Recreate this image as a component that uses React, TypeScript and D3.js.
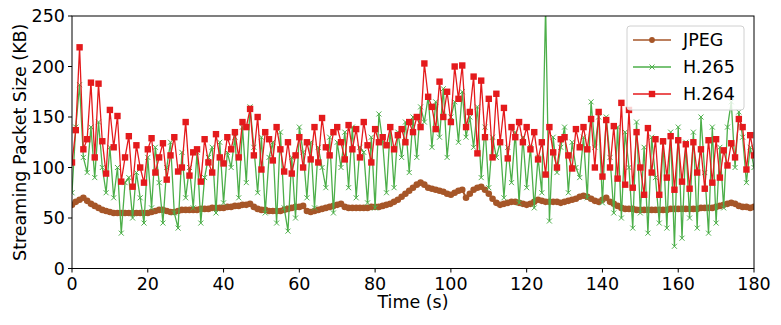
import React from 'react';
import * as d3 from 'd3';

// one sample per second, 0..180 s
const jpeg = [
  63, 66, 68, 70, 67, 64, 62, 60, 58, 57,
  56, 55, 55, 55, 55, 55, 55, 55, 55, 55,
  55, 56, 57, 58, 58, 57, 56, 56, 57, 58,
  58, 58, 58, 58, 59, 59, 59, 60, 60, 60,
  60, 61, 61, 62, 62, 63, 63, 64, 61, 59,
  58, 58, 57, 57, 57, 57, 58, 59, 60, 61,
  61, 62, 57, 56, 57, 58, 59, 60, 61, 62,
  63, 64, 61, 60, 60, 60, 60, 60, 60, 61,
  61, 61, 62, 63, 64, 66, 68, 71, 74, 77,
  80, 83, 85, 83, 80, 79, 78, 77, 76, 74,
  73, 75, 77, 78, 70, 74, 78, 80, 81, 78,
  74, 69, 65, 63, 64, 65, 66, 66, 65, 64,
  63, 64, 66, 68, 67, 66, 66, 66, 66, 65,
  66, 67, 68, 69, 71, 72, 71, 69, 67, 66,
  68, 70, 66, 64, 62, 60, 59, 59, 59, 58,
  58, 58, 58, 58, 58, 58, 58, 58, 59, 59,
  59, 59, 59, 59, 59, 59, 60, 60, 60, 60,
  61, 62, 63, 64, 65, 64, 62, 61, 61, 60, 61,
];

const h265 = [
  75, 140, 182, 110, 95, 140, 90, 145, 100, 75,
  120, 70, 100, 35, 85, 90, 50, 95, 70, 45,
  110, 60, 120, 85, 45, 100, 125, 55, 40, 115,
  70, 100, 60, 115, 45, 90, 110, 120, 55, 125,
  65, 115, 100, 130, 70, 140, 85, 160, 120, 75,
  130, 55, 110, 125, 45, 135, 60, 37, 110, 50,
  140, 115, 70, 125, 60, 120, 100, 80, 130, 55,
  125, 100, 135, 80, 140, 70, 120, 115, 65, 130,
  60, 153, 125, 75, 140, 80, 135, 110, 145, 95,
  150, 110, 160, 145, 170, 120, 165, 130, 178, 110,
  150, 165, 125, 175, 130, 150, 120, 160, 90, 140,
  80, 130, 110, 125, 70, 120, 85, 135, 65, 130,
  80, 120, 60, 110, 75, 260, 47, 130, 95, 120,
  140, 75, 125, 100, 90, 130, 70, 165, 120, 150,
  65, 150, 110, 55, 140, 50, 135, 100, 40, 145,
  55, 120, 35, 130, 90, 45, 125, 40, 135, 22,
  140, 30, 125, 50, 135, 40, 150, 95, 35, 140,
  45, 120, 60, 140, 165, 100, 155, 130, 85, 120, 100,
];

const h264 = [
  105, 137, 219, 118, 128, 184, 110, 183, 126, 94,
  157, 120, 151, 86, 110, 131, 81, 122, 100, 85,
  118, 129, 95, 110, 124, 88, 112, 130, 96, 100,
  145, 92, 115, 118, 86, 128, 105, 95, 133, 110,
  104, 130, 118, 135, 110, 145, 140, 158, 112, 150,
  98, 135, 128, 107, 140, 118, 96, 125, 94, 112,
  130, 100, 125, 108, 140, 105, 149, 120, 112, 135,
  140, 125, 108, 142, 118, 138, 110, 145, 122, 105,
  138, 125, 130, 122, 140, 118, 132, 138, 125, 145,
  135, 150, 140, 203, 170, 160, 138, 185, 150, 175,
  145, 200, 168, 201, 140, 155, 190, 114, 186, 130,
  168, 110, 173, 125, 159, 109, 140, 130, 145, 125,
  140, 118, 135, 108, 125, 93, 140, 115, 100, 128,
  130, 112, 99, 138, 120, 140, 118, 148, 100, 155,
  91, 147, 100, 141, 89, 164, 83, 157, 80, 135,
  100, 73, 139, 95, 128, 73, 126, 90, 131, 78,
  127, 86, 123, 79, 125, 95, 118, 79, 127, 85,
  128, 90, 117, 102, 124, 110, 148, 140, 98, 132, 112,
];

const xTicks = [0, 20, 40, 60, 80, 100, 120, 140, 160, 180];
const yTicks = [0, 50, 100, 150, 200, 250];

const series = [
  { name: 'JPEG', values: jpeg, color: '#a65628', marker: 'circle' },
  { name: 'H.265', values: h265, color: '#4daf4a', marker: 'x' },
  { name: 'H.264', values: h264, color: '#e41a1c', marker: 'square' },
];

const W = 781, H = 325;
const m = { left: 72, right: 27, top: 16, bottom: 56.5 };
const font = '"DejaVu Sans", sans-serif';
const fs = 17.5;

function Marker({ kind, x, y, color, big }: { kind: string; x: number; y: number; color: string; big?: boolean }) {
  if (kind === 'circle') return <circle cx={x} cy={y} r={big ? 3.3 : 2.9} fill={color} />;
  if (kind === 'square') return <rect x={x - 3.2} y={y - 3.2} width={6.4} height={6.4} fill={color} />;
  const s = 2.5;
  return (
    <path d={`M${x - s},${y - s}L${x + s},${y + s}M${x - s},${y + s}L${x + s},${y - s}`} stroke={color} strokeWidth={1} />
  );
}

export default function App() {
  const x = d3.scaleLinear().domain([0, 180]).range([m.left, W - m.right]);
  const y = d3.scaleLinear().domain([0, 250]).range([H - m.bottom, m.top]);
  const line = d3.line<number>().x((_, i) => x(i)).y(d => y(d));

  const lg = { x: 627, y: 26, w: 117, h: 84 };

  return (
    <svg width={W} height={H} style={{ position: 'absolute', left: 0, top: 0 }} fontFamily={font}>
      <defs>
        <clipPath id="plot">
          <rect x={m.left} y={m.top} width={W - m.left - m.right} height={H - m.top - m.bottom} />
        </clipPath>
      </defs>
      <rect width={W} height={H} fill="white" />
      <g clipPath="url(#plot)">
        {series.map(s => (
          <g key={s.name}>
            <path d={line(s.values) || ''} fill="none" stroke={s.color} strokeWidth={s.marker === 'circle' ? 2 : 1.3} />
            {s.values.map((v, i) => (
              <Marker key={i} kind={s.marker} x={x(i)} y={y(v)} color={s.color} big />
            ))}
          </g>
        ))}
      </g>
      <rect x={m.left} y={m.top} width={W - m.left - m.right} height={H - m.top - m.bottom} fill="none" stroke="#000" strokeWidth={1} />
      {xTicks.map(t => (
        <g key={t}>
          <line x1={x(t)} x2={x(t)} y1={H - m.bottom} y2={H - m.bottom + 4} stroke="#000" />
          <text x={x(t)} y={H - m.bottom + 21} textAnchor="middle" fontSize={fs}>{t}</text>
        </g>
      ))}
      {yTicks.map(t => (
        <g key={t}>
          <line x1={m.left - 4} x2={m.left} y1={y(t)} y2={y(t)} stroke="#000" />
          <text x={m.left - 7} y={y(t) + 6.3} textAnchor="end" fontSize={fs}>{t}</text>
        </g>
      ))}
      <text x={(m.left + W - m.right) / 2} y={308} textAnchor="middle" fontSize={fs}>Time (s)</text>
      <text transform={`translate(26,${(m.top + H - m.bottom) / 2}) rotate(-90)`} textAnchor="middle" fontSize={fs}>
        Streaming Packet Size (KB)
      </text>
      <g>
        <rect x={lg.x} y={lg.y} width={lg.w} height={lg.h} rx={3} fill="white" fillOpacity={0.8} stroke="#d0d0d0" />
        {series.map((s, i) => {
          const cy = lg.y + 14 + i * 27;
          return (
            <g key={s.name}>
              <line x1={633} x2={671} y1={cy} y2={cy} stroke={s.color} strokeWidth={1.3} />
              <Marker kind={s.marker} x={652} y={cy} color={s.color} />
              <text x={683} y={cy + 6.3} fontSize={fs}>{s.name}</text>
            </g>
          );
        })}
      </g>
    </svg>
  );
}
